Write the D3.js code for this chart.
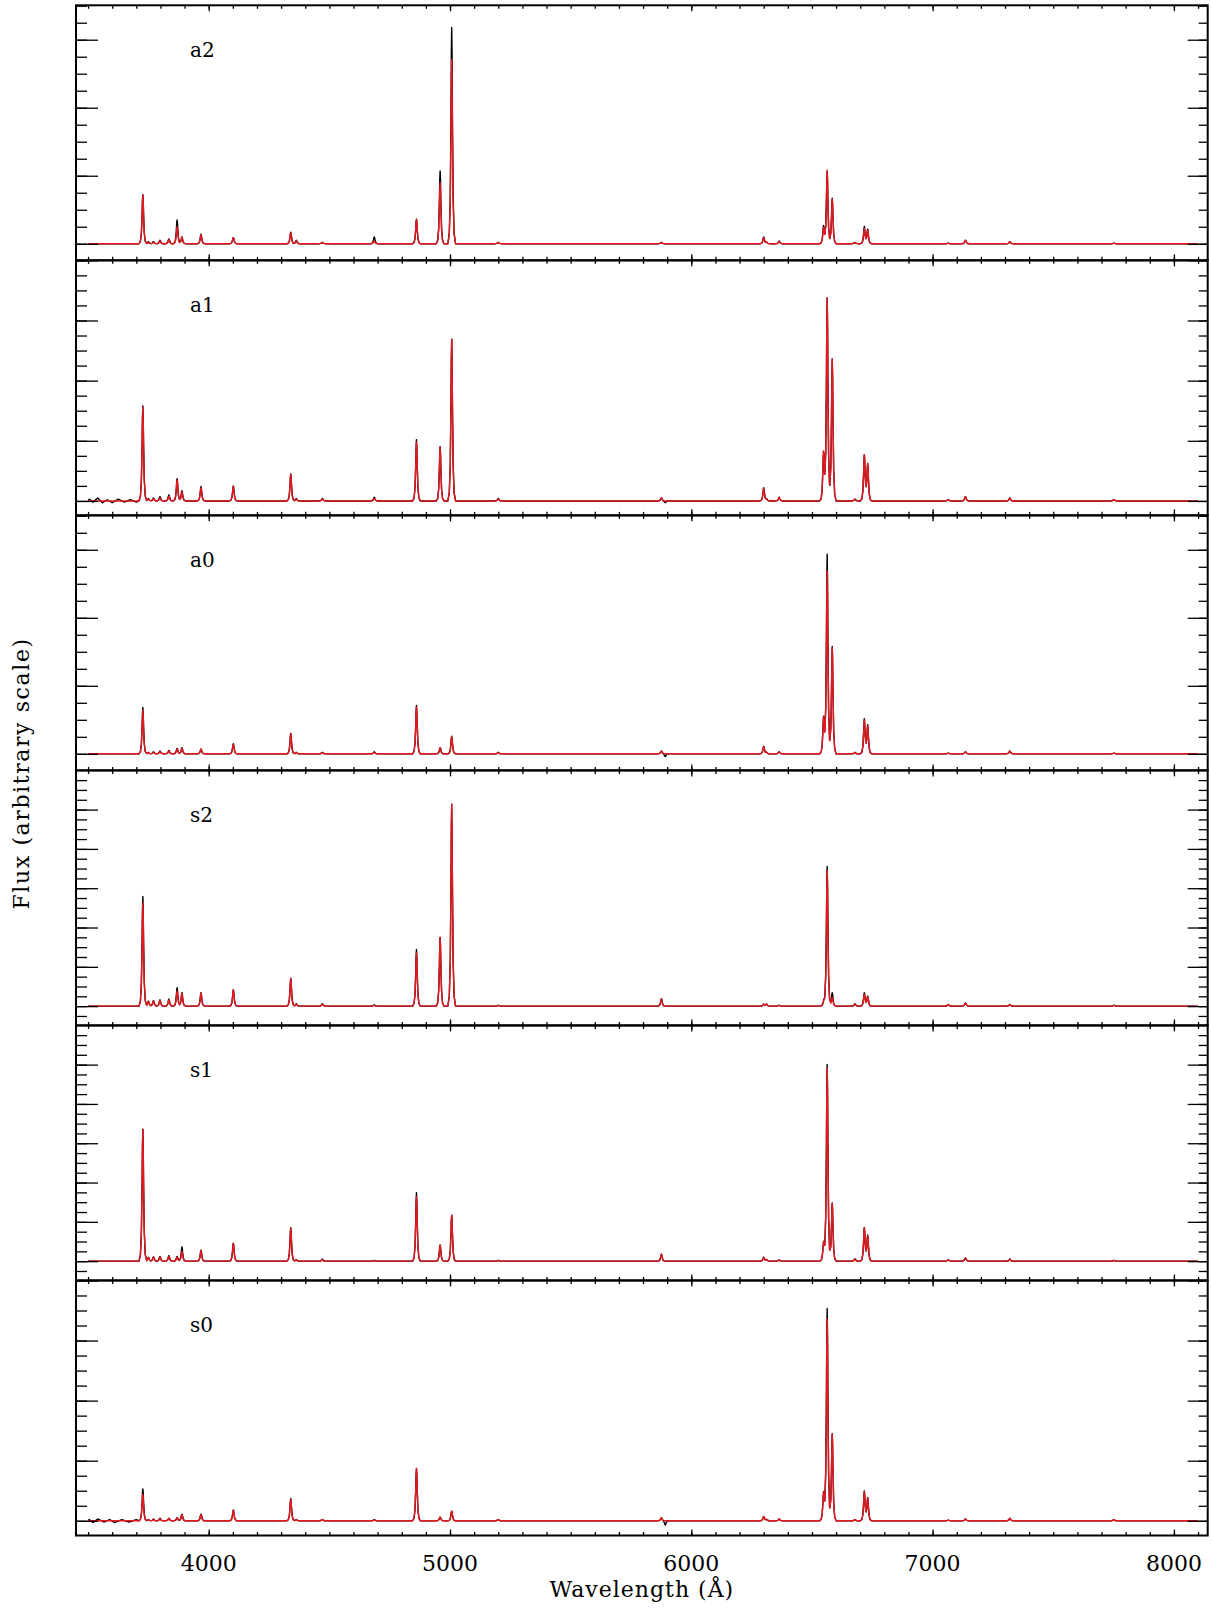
<!DOCTYPE html>
<html>
<head>
<meta charset="utf-8">
<script src="https://cdn.jsdelivr.net/npm/d3@7"></script>
<style>
  body { margin: 0; background: #fff; }
  svg text { font-family: "DejaVu Serif", serif; fill: #000; }
</style>
</head>
<body>
<div id="chart"></div>
<script>
// ---- data ----
const panelNames = ["a2", "a1", "a0", "s2", "s1", "s0"];
// y-axis limits of each panel (arbitrary flux units, major tick = 1)
const yMax = [3.506, 4.0, 3.506, 5.997, 5.997, 4.0];
const yMin = [-0.244, -0.24, -0.244, -0.491, -0.491, -0.245];

const xTicks = [4000, 5000, 6000, 7000, 8000];
const specRange = [3500, 8100];

// emission lines (Å)
const lineWave = [3727, 3750, 3771, 3798, 3835, 3869, 3889, 3968, 4102, 4340, 4363, 4471, 4686,
  4861, 4959, 5007, 5200, 5876, 5892, 6300, 6312, 6364, 6548, 6563, 6584, 6678, 6717, 6731,
  7065, 7136, 7320, 7751];

// peak heights, observed (black) and model (red)
const obsA2 = [0.72, 0.03, 0.03, 0.05, 0.07, 0.35, 0.10, 0.14, 0.09, 0.17, 0.05, 0.02, 0.10,
  0.36, 1.07, 3.18, 0.02, 0.02, 0.00, 0.10, 0.02, 0.04, 0.26, 1.06, 0.67, 0.02, 0.25, 0.21,
  0.01, 0.05, 0.03, 0.01];
const modA2 = [0.72, 0.02, 0.02, 0.04, 0.06, 0.25, 0.10, 0.13, 0.09, 0.16, 0.04, 0.02, 0.04,
  0.36, 0.90, 2.71, 0.02, 0.02, 0.00, 0.09, 0.02, 0.03, 0.23, 1.08, 0.66, 0.02, 0.22, 0.19,
  0.01, 0.05, 0.03, 0.01];
const obsA1 = [1.58, 0.04, 0.05, 0.07, 0.10, 0.37, 0.17, 0.24, 0.25, 0.45, 0.04, 0.04, 0.06,
  1.02, 0.90, 2.69, 0.04, 0.05, -0.03, 0.22, 0.03, 0.06, 0.80, 3.37, 2.36, 0.03, 0.76, 0.61,
  0.02, 0.07, 0.05, 0.02];
const modA1 = [1.56, 0.03, 0.04, 0.05, 0.08, 0.35, 0.15, 0.22, 0.24, 0.44, 0.03, 0.03, 0.04,
  0.98, 0.90, 2.69, 0.03, 0.05, 0.00, 0.21, 0.03, 0.06, 0.80, 3.37, 2.36, 0.03, 0.76, 0.61,
  0.02, 0.07, 0.05, 0.02];
const obsA0 = [0.68, 0.02, 0.03, 0.04, 0.05, 0.08, 0.09, 0.07, 0.15, 0.30, 0.02, 0.02, 0.03,
  0.71, 0.09, 0.26, 0.02, 0.04, -0.04, 0.11, 0.02, 0.03, 0.53, 2.93, 1.58, 0.02, 0.51, 0.42,
  0.01, 0.03, 0.04, 0.01];
const modA0 = [0.64, 0.02, 0.02, 0.03, 0.04, 0.07, 0.08, 0.07, 0.14, 0.29, 0.02, 0.02, 0.02,
  0.69, 0.09, 0.25, 0.02, 0.04, 0.00, 0.10, 0.02, 0.03, 0.52, 2.69, 1.56, 0.02, 0.49, 0.40,
  0.01, 0.03, 0.04, 0.01];
const obsS2 = [2.79, 0.13, 0.14, 0.16, 0.18, 0.47, 0.34, 0.34, 0.42, 0.71, 0.06, 0.06, 0.03,
  1.44, 1.75, 5.14, 0.02, 0.19, 0.00, 0.05, 0.05, 0.02, 0.12, 3.55, 0.34, 0.06, 0.34, 0.25,
  0.04, 0.08, 0.04, 0.02];
const modS2 = [2.64, 0.12, 0.13, 0.15, 0.16, 0.38, 0.33, 0.33, 0.41, 0.70, 0.05, 0.05, 0.02,
  1.36, 1.75, 5.14, 0.02, 0.18, 0.00, 0.05, 0.05, 0.02, 0.10, 3.45, 0.22, 0.05, 0.30, 0.24,
  0.04, 0.08, 0.04, 0.02];
const obsS1 = [3.36, 0.10, 0.11, 0.12, 0.14, 0.12, 0.36, 0.28, 0.46, 0.85, 0.04, 0.05, 0.02,
  1.74, 0.41, 1.17, 0.02, 0.18, 0.00, 0.10, 0.04, 0.03, 0.46, 5.00, 1.48, 0.06, 0.85, 0.65,
  0.04, 0.08, 0.05, 0.02];
const modS1 = [3.36, 0.09, 0.10, 0.11, 0.12, 0.10, 0.25, 0.27, 0.45, 0.84, 0.03, 0.04, 0.01,
  1.64, 0.41, 1.17, 0.02, 0.17, 0.00, 0.09, 0.04, 0.03, 0.45, 4.90, 1.47, 0.05, 0.84, 0.64,
  0.04, 0.08, 0.05, 0.02];
const obsS0 = [0.53, 0.02, 0.03, 0.04, 0.04, 0.05, 0.11, 0.11, 0.18, 0.37, 0.02, 0.02, 0.02,
  0.87, 0.06, 0.16, 0.02, 0.05, -0.07, 0.07, 0.02, 0.03, 0.46, 3.53, 1.45, 0.02, 0.49, 0.38,
  0.01, 0.03, 0.04, 0.02];
const modS0 = [0.44, 0.02, 0.02, 0.03, 0.04, 0.05, 0.10, 0.10, 0.17, 0.36, 0.02, 0.02, 0.01,
  0.87, 0.06, 0.16, 0.02, 0.05, 0.00, 0.07, 0.02, 0.03, 0.45, 3.36, 1.44, 0.02, 0.48, 0.37,
  0.01, 0.03, 0.04, 0.02];

// blue-end continuum wiggles of the observed spectra [Å, flux]
const noiseA1 = [[3505, 0.03], [3520, -0.02], [3540, 0.05], [3560, -0.03], [3580, 0.02],
  [3600, -0.03], [3625, 0.03], [3650, -0.02], [3675, 0.02], [3700, -0.02]];
const noiseS0 = [[3505, 0.02], [3520, -0.03], [3540, 0.03], [3565, -0.02], [3590, 0.02],
  [3610, -0.03], [3640, 0.02], [3670, -0.02], [3700, 0.02]];

// instrumental line shape: offset (Å) -> fraction of peak
const profileOffset = [-16, -10, -6, -3, -1.5, 0, 1.5, 3, 6, 10, 16];
const profileFrac = [0, 0.05, 0.22, 0.6, 0.88, 1, 0.88, 0.6, 0.22, 0.05, 0];

const obsPeaks = [obsA2, obsA1, obsA0, obsS2, obsS1, obsS0];
const modPeaks = [modA2, modA1, modA0, modS2, modS1, modS0];
const obsNoise = [[], noiseA1, [], [], [], noiseS0];

// ---- layout ----
const W = 1212, H = 1608;
const frame = { left: 76, right: 1207.7, top: 5.3, bottom: 1535.5 };
const panelH = (frame.bottom - frame.top) / panelNames.length;

const svg = d3.select("#chart").append("svg")
  .attr("width", W).attr("height", H);

const x = d3.scaleLinear().domain([3450, 8140]).range([frame.left, frame.right]);
const profile = d3.scaleLinear().domain(profileOffset).range(profileFrac).clamp(true);

// spectrum sample wavelengths: every knot of every line shape
function sampleWaves(noise) {
  const set = new Set(specRange);
  lineWave.forEach(w => profileOffset.forEach(o => set.add(w + o)));
  noise.forEach(n => set.add(n[0]));
  return Array.from(set).filter(w => w >= specRange[0] && w <= specRange[1]).sort((a, b) => a - b);
}

function spectrum(peaks, noise) {
  const nmap = new Map(noise);
  return sampleWaves(noise).map(w => ({
    w: w,
    f: d3.sum(lineWave, (lw, i) => peaks[i] * profile(w - lw)) + (nmap.get(w) || 0)
  }));
}

function drawTicks(g, y, top, bottom) {
  const minor = d3.range(Math.ceil(y.domain()[0] * 4) / 4, y.domain()[1] + 1e-6, 0.25);
  const major = d3.range(0, y.domain()[1] + 1e-6, 1);
  const xMinor = d3.range(3500, 8140, 100);

  const axes = [
    [d3.axisLeft(y).tickValues(minor).tickSize(-11), `translate(${frame.left},0)`],
    [d3.axisLeft(y).tickValues(major).tickSize(-22), `translate(${frame.left},0)`],
    [d3.axisRight(y).tickValues(minor).tickSize(-9), `translate(${frame.right},0)`],
    [d3.axisRight(y).tickValues(major).tickSize(-20), `translate(${frame.right},0)`],
    [d3.axisTop(x).tickValues(xMinor).tickSize(-3.5), `translate(0,${top})`],
    [d3.axisTop(x).tickValues(xTicks).tickSize(-6), `translate(0,${top})`],
    [d3.axisBottom(x).tickValues(xMinor).tickSize(-3.5), `translate(0,${bottom})`],
    [d3.axisBottom(x).tickValues(xTicks).tickSize(-6), `translate(0,${bottom})`]
  ];
  axes.forEach(([axis, tr]) => {
    const a = g.append("g").attr("transform", tr).call(axis.tickFormat(""));
    a.select(".domain").remove();
    a.selectAll("line").attr("stroke", "#000").attr("stroke-width", 1.3);
  });
}

panelNames.forEach((name, p) => {
  const top = frame.top + p * panelH;
  const bottom = top + panelH;
  const y = d3.scaleLinear().domain([yMin[p], yMax[p]]).range([bottom, top]);
  const g = svg.append("g").attr("class", "panel-" + name);

  g.append("clipPath").attr("id", "clip" + p)
    .append("rect")
    .attr("x", frame.left).attr("y", top)
    .attr("width", frame.right - frame.left).attr("height", panelH);

  const line = d3.line().x(d => x(d.w)).y(d => y(d.f));

  g.append("path")
    .datum(spectrum(obsPeaks[p], obsNoise[p]))
    .attr("clip-path", `url(#clip${p})`)
    .attr("fill", "none").attr("stroke", "#000").attr("stroke-width", 1.4)
    .attr("stroke-linejoin", "round")
    .attr("d", line);

  g.append("path")
    .datum(spectrum(modPeaks[p], []))
    .attr("clip-path", `url(#clip${p})`)
    .attr("fill", "none").attr("stroke", "#e8161e").attr("stroke-width", 1.4)
    .attr("stroke-linejoin", "round")
    .attr("d", line);

  drawTicks(g, y, top, bottom);

  g.append("rect")
    .attr("x", frame.left).attr("y", top)
    .attr("width", frame.right - frame.left).attr("height", panelH)
    .attr("fill", "none").attr("stroke", "#000").attr("stroke-width", 2);

  g.append("text")
    .attr("x", 190).attr("y", top + 52)
    .style("font-size", "20px")
    .text(name);
});

// x tick labels under the last panel
svg.append("g")
  .selectAll("text")
  .data(xTicks)
  .enter().append("text")
  .attr("x", d => x(d)).attr("y", 1571)
  .attr("text-anchor", "middle")
  .style("font-size", "22px")
  .text(d => d);

svg.append("text")
  .attr("x", (frame.left + frame.right) / 2).attr("y", 1597)
  .attr("text-anchor", "middle")
  .style("font-size", "22px")
  .style("letter-spacing", "1px")
  .text("Wavelength (Å)");

svg.append("text")
  .attr("transform", `translate(29,${(frame.top + frame.bottom) / 2 + 3}) rotate(-90)`)
  .attr("text-anchor", "middle")
  .style("font-size", "22px")
  .style("letter-spacing", "1.6px")
  .text("Flux (arbitrary scale)");
</script>
</body>
</html>
